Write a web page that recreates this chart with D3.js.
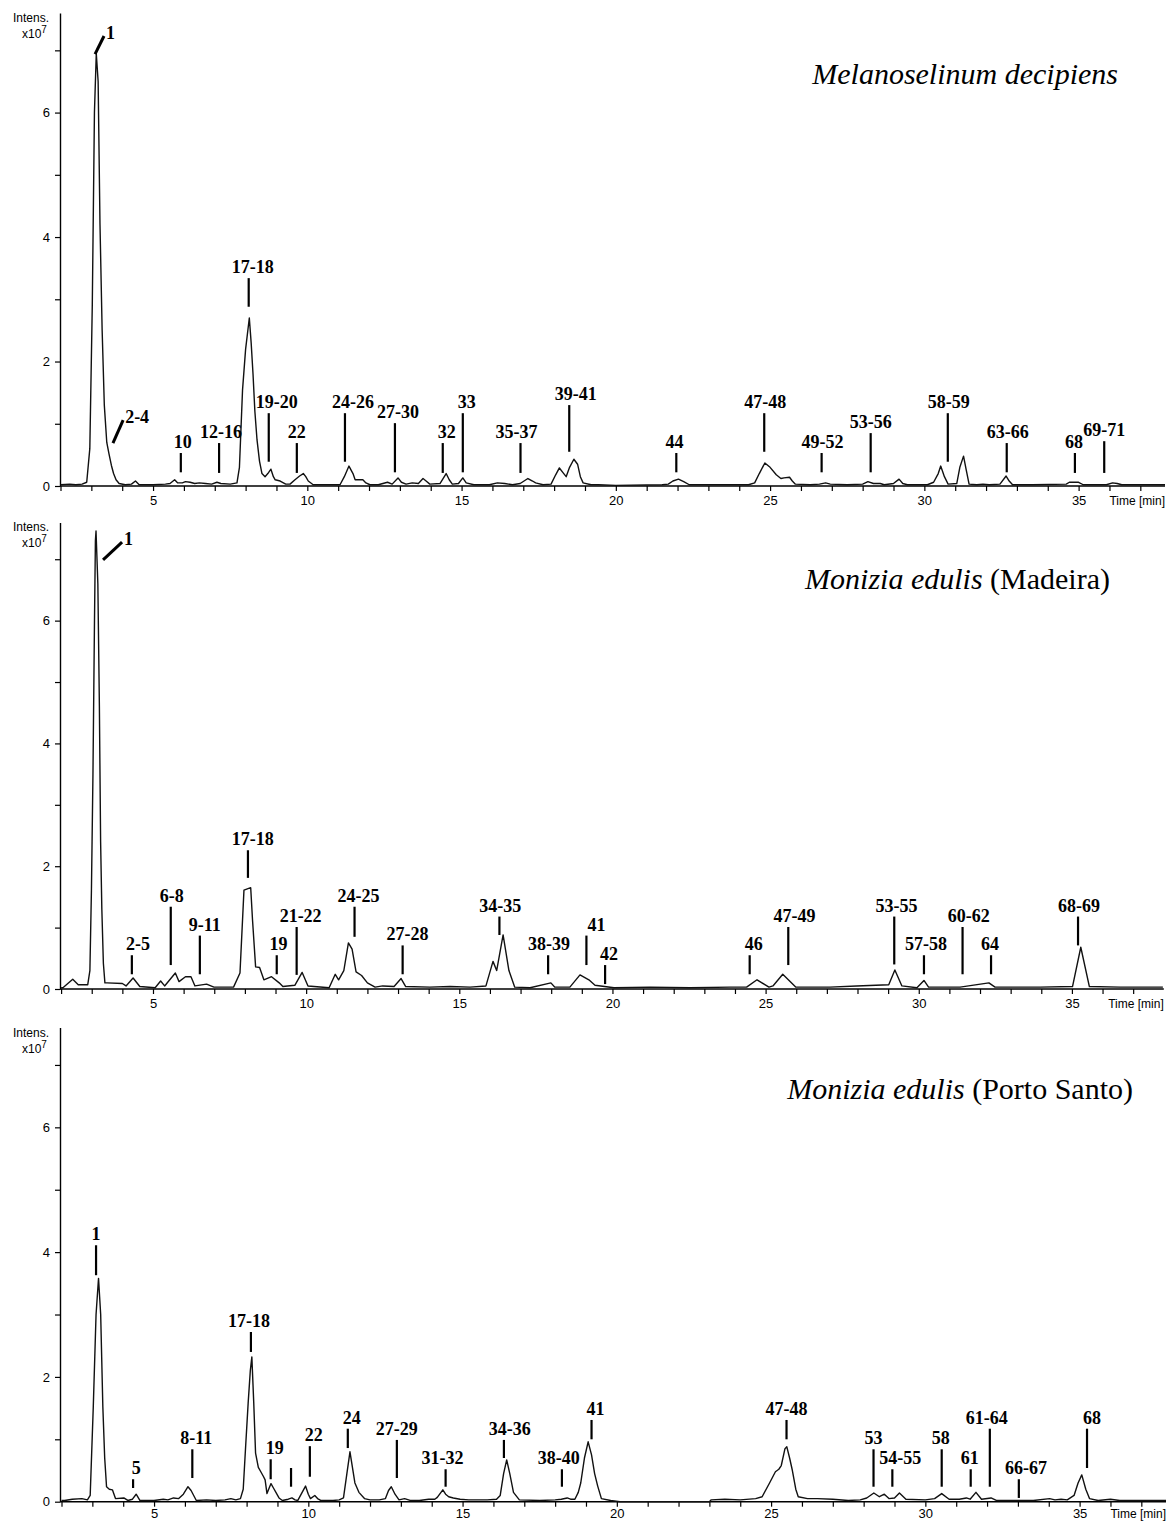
<!DOCTYPE html>
<html>
<head>
<meta charset="utf-8">
<script src="https://cdn.jsdelivr.net/npm/d3@7"></script>
<style>
  body { margin: 0; background: #fff; }
  .axis .domain { stroke: #000; stroke-width: 1.4; }
  .axis line { stroke: #000; stroke-width: 1.2; }
  .axis text { font-family: "Liberation Sans", Arial, sans-serif; font-size: 13px; fill: #000; }
  .trace { fill: none; stroke: #111; stroke-width: 1.4; stroke-linejoin: round; }
  .peak-label { font-family: "Liberation Serif", "Times New Roman", serif; font-weight: bold; font-size: 18px; fill: #000; }
  .marker { stroke: #000; stroke-width: 2.2; }
  .slant { stroke: #000; stroke-width: 3; }
  .unit-label { font-family: "Liberation Sans", Arial, sans-serif; font-size: 12px; fill: #000; }
  .title { font-family: "Liberation Serif", "Times New Roman", serif; font-size: 30px; fill: #000; }
</style>
</head>
<body>
<svg id="chart" width="1174" height="1522"></svg>
<script>
// ---- data (time in min, intensity in x10^7) ----

var titles = ['Melanoselinum decipiens', 'Monizia edulis', 'Monizia edulis']
var titleSuffix = ['', ' (Madeira)', ' (Porto Santo)']

var xTickValues = d3.range(2, 38)
var yTickValues = d3.range(0, 8)

// Melanoselinum decipiens
var melTime = [2.0, 2.3, 2.5, 2.7, 2.85, 2.95, 3.03, 3.1, 3.16, 3.22, 3.28, 3.35, 3.42, 3.5, 3.57, 3.65, 3.72, 3.8, 3.9, 4.1,
  4.3, 4.43, 4.55, 5.0, 5.4, 5.55, 5.7, 5.8, 5.95, 6.05, 6.2, 6.35, 6.5, 6.7, 6.9, 7.07, 7.2, 7.5, 7.72, 7.8,
  7.9, 8.0, 8.12, 8.18, 8.24, 8.3, 8.37, 8.45, 8.53, 8.63, 8.72, 8.82, 8.9, 8.96, 9.12, 9.3, 9.44, 9.6, 9.75, 9.87,
  9.95, 10.03, 10.19, 10.5, 11.06, 11.2, 11.35, 11.48, 11.55, 11.65, 11.8, 11.9, 12.03, 12.3, 12.6, 12.75, 12.94, 13.05, 13.2, 13.4,
  13.6, 13.75, 13.85, 13.97, 14.3, 14.5, 14.6, 14.7, 14.9, 15.04, 15.15, 15.4, 15.9, 16.16, 16.4, 16.65, 16.9, 17.15, 17.3, 17.4,
  17.64, 17.9, 18.05, 18.17, 18.28, 18.39, 18.5, 18.64, 18.76, 18.85, 18.94, 19.2, 19.44, 20.0, 21.5, 21.7, 21.85, 22.03, 22.2, 22.38,
  23.0, 24.3, 24.5, 24.65, 24.83, 25.0, 25.2, 25.35, 25.45, 25.63, 25.72, 25.82, 26.3, 26.6, 26.8, 26.95, 27.5, 28.0, 28.17, 28.35,
  28.57, 28.7, 29.0, 29.18, 29.3, 29.45, 30.1, 30.3, 30.45, 30.53, 30.65, 30.77, 31.05, 31.15, 31.27, 31.36, 31.45, 31.7, 31.9, 32.1,
  32.45, 32.65, 32.75, 32.86, 33.5, 34.6, 34.7, 35.0, 35.15, 35.9, 36.1, 36.25, 36.4, 37.8]
var melIntens = [0.02, 0.03, 0.02, 0.03, 0.06, 0.6, 2.9, 6.0, 6.95, 6.5, 4.2, 2.5, 1.3, 0.7, 0.52, 0.33, 0.2, 0.1, 0.04, 0.02,
  0.03, 0.08, 0.02, 0.02, 0.03, 0.04, 0.1, 0.05, 0.05, 0.07, 0.06, 0.04, 0.05, 0.04, 0.03, 0.06, 0.04, 0.03, 0.05, 0.3,
  1.54, 2.2, 2.7, 2.3, 1.8, 1.2, 0.74, 0.4, 0.2, 0.15, 0.2, 0.27, 0.15, 0.1, 0.08, 0.03, 0.03, 0.1, 0.16, 0.2,
  0.15, 0.08, 0.02, 0.02, 0.02, 0.15, 0.32, 0.2, 0.1, 0.1, 0.1, 0.05, 0.02, 0.02, 0.06, 0.03, 0.13, 0.06, 0.03, 0.05,
  0.04, 0.12, 0.08, 0.03, 0.04, 0.2, 0.1, 0.03, 0.04, 0.13, 0.05, 0.02, 0.02, 0.05, 0.04, 0.02, 0.04, 0.12, 0.08, 0.05,
  0.02, 0.03, 0.18, 0.29, 0.22, 0.15, 0.3, 0.43, 0.35, 0.15, 0.05, 0.02, 0.02, 0.01, 0.02, 0.03, 0.08, 0.11, 0.07, 0.02,
  0.02, 0.02, 0.05, 0.2, 0.37, 0.3, 0.18, 0.12, 0.13, 0.14, 0.08, 0.03, 0.02, 0.03, 0.05, 0.03, 0.02, 0.03, 0.07, 0.04,
  0.04, 0.02, 0.04, 0.11, 0.04, 0.02, 0.02, 0.06, 0.2, 0.32, 0.15, 0.03, 0.04, 0.3, 0.48, 0.25, 0.03, 0.02, 0.03, 0.02,
  0.03, 0.16, 0.08, 0.02, 0.02, 0.03, 0.06, 0.06, 0.02, 0.02, 0.05, 0.04, 0.02, 0.02]
var melLabels = ['10', '12-16', '17-18', '19-20', '22', '24-26', '27-30', '32', '33', '35-37', '39-41', '44', '47-48', '49-52', '53-56', '58-59', '63-66', '68', '69-71']
var melMarkTime = [5.9, 7.14, 8.1, 8.75, 9.66, 11.22, 12.84, 14.39, 15.04, 16.91, 18.49, 21.96, 24.81, 26.67, 28.26, 30.76, 32.67, 34.88, 35.83]
var melTextTime = [5.96, 7.2, 8.23, 9.01, 9.66, 11.48, 12.94, 14.52, 15.17, 16.78, 18.7, 21.9, 24.84, 26.7, 28.26, 30.79, 32.7, 34.85, 35.83]
var melMarkTop = [0.53, 0.69, 3.34, 1.17, 0.69, 1.17, 1.01, 0.69, 1.17, 0.69, 1.3, 0.53, 1.17, 0.53, 0.85, 1.17, 0.69, 0.53, 0.72]
var melMarkBottom = [0.22, 0.21, 2.88, 0.39, 0.21, 0.39, 0.22, 0.21, 0.22, 0.21, 0.55, 0.22, 0.55, 0.22, 0.22, 0.39, 0.22, 0.21, 0.21]
var melSlantLabels = ['1', '2-4']
var melSlantFrom = [[3.12, 6.94], [3.7, 0.69]]
var melSlantTo = [[3.41, 7.23], [4.03, 1.06]]

// Monizia edulis (Madeira)
var madTime = [2.0, 2.06, 2.38, 2.56, 2.87, 2.94, 2.99, 3.04, 3.09, 3.12, 3.14, 3.2, 3.25, 3.29, 3.33, 3.38, 3.43, 3.5, 4.0, 4.12,
  4.35, 4.57, 5.07, 5.25, 5.38, 5.73, 5.85, 6.06, 6.24, 6.37, 6.75, 6.99, 7.63, 7.84, 7.97, 8.19, 8.25, 8.35, 8.48, 8.62,
  8.87, 9.12, 9.24, 9.63, 9.87, 10.06, 10.75, 10.95, 11.06, 11.23, 11.38, 11.5, 11.63, 11.81, 12.0, 12.25, 12.5, 12.87, 13.1, 13.25,
  14.04, 14.7, 15.35, 15.87, 16.1, 16.22, 16.43, 16.62, 16.81, 17.31, 17.99, 18.12, 18.61, 18.94, 19.23, 19.43, 20.05, 21.23, 22.53, 23.84,
  24.38, 24.72, 25.11, 25.24, 25.56, 25.99, 27.1, 27.97, 29.02, 29.22, 29.45, 29.94, 30.17, 30.32, 31.35, 32.29, 32.49, 33.96, 35.02, 35.29,
  35.57, 36.57, 37.97]
var madIntens = [0.02, 0.02, 0.16, 0.07, 0.07, 0.3, 1.6, 3.5, 6.0, 7.3, 7.46, 6.6, 4.6, 2.4, 1.3, 0.42, 0.1, 0.1, 0.09, 0.05,
  0.18, 0.04, 0.02, 0.13, 0.05, 0.26, 0.12, 0.2, 0.2, 0.05, 0.08, 0.03, 0.03, 0.26, 1.61, 1.65, 1.12, 0.36, 0.35, 0.15,
  0.2, 0.1, 0.04, 0.06, 0.27, 0.05, 0.02, 0.24, 0.15, 0.3, 0.75, 0.65, 0.28, 0.22, 0.1, 0.03, 0.05, 0.04, 0.17, 0.04,
  0.03, 0.04, 0.03, 0.05, 0.45, 0.3, 0.88, 0.3, 0.03, 0.02, 0.1, 0.03, 0.03, 0.23, 0.15, 0.06, 0.02, 0.03, 0.02, 0.03,
  0.03, 0.15, 0.03, 0.05, 0.24, 0.03, 0.03, 0.05, 0.07, 0.31, 0.05, 0.02, 0.14, 0.03, 0.03, 0.1, 0.03, 0.03, 0.04, 0.68,
  0.04, 0.03, 0.03]
var madLabels = ['2-5', '6-8', '9-11', '17-18', '19', '21-22', '24-25', '27-28', '34-35', '38-39', '41', '42', '46', '47-49', '53-55', '57-58', '60-62', '64', '68-69']
var madMarkTime = [4.31, 5.58, 6.53, 8.1, 9.04, 9.69, 11.58, 13.15, 16.31, 17.9, 19.15, 19.76, 24.48, 25.74, 29.2, 30.17, 31.43, 32.36, 35.2]
var madTextTime = [4.51, 5.61, 6.69, 8.26, 9.1, 9.82, 11.71, 13.31, 16.34, 17.93, 19.48, 19.89, 24.61, 25.94, 29.27, 30.24, 31.63, 32.33, 35.23]
var madMarkTop = [0.55, 1.34, 0.87, 2.26, 0.55, 1.01, 1.34, 0.71, 1.18, 0.55, 0.87, 0.39, 0.55, 1.01, 1.18, 0.55, 1.01, 0.55, 1.18]
var madMarkBottom = [0.24, 0.39, 0.24, 1.81, 0.24, 0.23, 0.85, 0.24, 0.88, 0.24, 0.39, 0.08, 0.24, 0.39, 0.4, 0.24, 0.24, 0.24, 0.71]
var madSlantLabels = ['1']
var madSlantFrom = [[3.37, 6.99]]
var madSlantTo = [[3.99, 7.28]]

// Monizia edulis (Porto Santo)
var psTime = [2.0, 2.1, 2.35, 2.66, 2.84, 2.93, 3.03, 3.12, 3.2, 3.27, 3.34, 3.4, 3.46, 3.55, 3.65, 3.75, 4.02, 4.15, 4.3, 4.42,
  4.54, 5.0, 5.3, 5.45, 5.63, 5.8, 5.95, 6.1, 6.2, 6.37, 6.7, 7.0, 7.3, 7.49, 7.65, 7.8, 7.89, 7.97, 8.05, 8.12,
  8.17, 8.23, 8.29, 8.38, 8.46, 8.55, 8.6, 8.66, 8.79, 8.87, 8.95, 9.05, 9.16, 9.35, 9.47, 9.57, 9.66, 9.8, 9.91, 10.0,
  10.07, 10.21, 10.3, 10.4, 10.8, 11.0, 11.14, 11.25, 11.35, 11.43, 11.51, 11.64, 11.82, 12.0, 12.3, 12.5, 12.6, 12.69, 12.81, 12.94,
  13.12, 13.3, 13.6, 13.9, 14.1, 14.18, 14.36, 14.45, 14.55, 14.7, 14.92, 15.2, 15.5, 15.8, 16.1, 16.22, 16.33, 16.43, 16.53, 16.65,
  16.84, 17.5, 18.0, 18.2, 18.39, 18.5, 18.64, 18.75, 18.83, 18.95, 19.07, 19.18, 19.28, 19.38, 19.5, 19.8, 20.1, 23.0, 23.06, 23.5,
  24.0, 24.5, 24.71, 24.95, 25.14, 25.25, 25.33, 25.45, 25.51, 25.6, 25.69, 25.8, 25.88, 26.18, 26.5, 27.0, 27.5, 27.89, 28.1, 28.33,
  28.51, 28.67, 28.82, 29.0, 29.16, 29.37, 30.0, 30.3, 30.53, 30.77, 31.1, 31.33, 31.45, 31.64, 31.82, 32.13, 32.3, 33.0, 33.5, 34.03,
  34.2, 34.4, 34.6, 34.82, 34.95, 35.07, 35.2, 35.32, 35.6, 36.0, 36.3, 37.8]
var psIntens = [0.02, 0.02, 0.04, 0.05, 0.03, 0.1, 1.52, 3.0, 3.58, 3.0, 1.52, 0.7, 0.24, 0.2, 0.19, 0.05, 0.06, 0.02, 0.04, 0.12,
  0.02, 0.02, 0.04, 0.03, 0.06, 0.05, 0.12, 0.24, 0.18, 0.02, 0.03, 0.02, 0.03, 0.05, 0.03, 0.05, 0.2, 0.9, 1.58, 2.1,
  2.32, 1.6, 0.78, 0.55, 0.48, 0.4, 0.35, 0.13, 0.29, 0.22, 0.15, 0.06, 0.02, 0.04, 0.06, 0.03, 0.02, 0.15, 0.25, 0.12,
  0.05, 0.1, 0.05, 0.02, 0.02, 0.03, 0.06, 0.45, 0.8, 0.55, 0.3, 0.15, 0.05, 0.03, 0.03, 0.05, 0.18, 0.24, 0.12, 0.03,
  0.05, 0.02, 0.02, 0.04, 0.04, 0.07, 0.19, 0.12, 0.08, 0.06, 0.04, 0.03, 0.03, 0.03, 0.04, 0.1, 0.45, 0.67, 0.45, 0.15,
  0.03, 0.02, 0.03, 0.04, 0.06, 0.04, 0.04, 0.15, 0.3, 0.7, 0.96, 0.75, 0.45, 0.25, 0.05, 0.02, 0.0, 0.0, 0.03, 0.04,
  0.03, 0.05, 0.08, 0.3, 0.48, 0.52, 0.58, 0.85, 0.88, 0.7, 0.5, 0.2, 0.08, 0.05, 0.05, 0.04, 0.02, 0.03, 0.06, 0.14,
  0.08, 0.12, 0.05, 0.06, 0.14, 0.04, 0.03, 0.05, 0.13, 0.04, 0.04, 0.06, 0.04, 0.15, 0.04, 0.06, 0.02, 0.02, 0.02, 0.05,
  0.03, 0.04, 0.03, 0.1, 0.3, 0.43, 0.2, 0.05, 0.02, 0.04, 0.02, 0.02]
var psLabels = ['1', '5', '8-11', '17-18', '19', '', '22', '24', '27-29', '31-32', '34-36', '38-40', '41', '47-48', '53', '54-55', '58', '61', '61-64', '66-67', '68']
var psMarkTime = [3.12, 4.32, 6.24, 8.14, 8.78, 9.44, 10.05, 11.28, 12.87, 14.45, 16.34, 18.22, 19.18, 25.5, 28.32, 28.93, 30.53, 31.47, 32.09, 33.03, 35.24]
var psTextTime = [3.12, 4.42, 6.37, 8.08, 8.91, 9.44, 10.18, 11.41, 12.87, 14.35, 16.53, 18.12, 19.31, 25.5, 28.32, 29.19, 30.5, 31.44, 31.99, 33.26, 35.4]
var psMarkTop = [4.11, 0.36, 0.84, 2.72, 0.68, 0.54, 0.89, 1.17, 0.99, 0.52, 0.99, 0.52, 1.31, 1.31, 0.84, 0.52, 0.84, 0.52, 1.17, 0.36, 1.17]
var psMarkBottom = [3.63, 0.22, 0.38, 2.4, 0.36, 0.24, 0.4, 0.86, 0.38, 0.24, 0.7, 0.24, 1.0, 1.0, 0.24, 0.24, 0.24, 0.24, 0.24, 0.06, 0.54]
var psSlantLabels = []
var psSlantFrom = []
var psSlantTo = []

// ---- layout ----
var panels = [
  { time: melTime, intens: melIntens, labels: melLabels, markTime: melMarkTime, textTime: melTextTime,
    markTop: melMarkTop, markBottom: melMarkBottom, slantLabels: melSlantLabels, slantFrom: melSlantFrom, slantTo: melSlantTo,
    tEnd: 37.8, xLeft: 60.5, xRight: 1165, zero: 486, top: 13, pad: 5, titleX: 1118, titleY: 84 },
  { time: madTime, intens: madIntens, labels: madLabels, markTime: madMarkTime, textTime: madTextTime,
    markTop: madMarkTop, markBottom: madMarkBottom, slantLabels: madSlantLabels, slantFrom: madSlantFrom, slantTo: madSlantTo,
    tEnd: 38, xLeft: 61.1, xRight: 1163.8, zero: 989, top: 522.4, pad: 5, titleX: 1110, titleY: 589 },
  { time: psTime, intens: psIntens, labels: psLabels, markTime: psMarkTime, textTime: psTextTime,
    markTop: psMarkTop, markBottom: psMarkBottom, slantLabels: psSlantLabels, slantFrom: psSlantFrom, slantTo: psSlantTo,
    tEnd: 37.8, xLeft: 61.5, xRight: 1166, zero: 1501.7, top: 1027.5, pad: 2, titleX: 1133, titleY: 1099 }
]

var svg = d3.select('#chart')
var yAxisX = 60

panels.forEach(function(p, i) {
  var x = d3.scaleLinear().domain([2, p.tEnd]).range([p.xLeft, p.xRight])
  var y = d3.scaleLinear().domain([0, 7.6]).range([p.zero, p.top])
  var g = svg.append('g').attr('class', 'panel')

  // axes
  var xAxis = d3.axisBottom(x)
    .tickValues(xTickValues)
    .tickSize(5)
    .tickSizeOuter(0)
    .tickPadding(p.pad)
    .tickFormat(function(d) { return d % 5 === 0 ? d : '' })
  g.append('g')
    .attr('class', 'axis x-axis')
    .attr('transform', 'translate(0,' + p.zero + ')')
    .call(xAxis)
  // stretch the baseline to the y axis
  g.select('.x-axis .domain').attr('d', 'M' + yAxisX + ',0H' + x.range()[1])

  var yAxis = d3.axisLeft(y)
    .tickValues(yTickValues)
    .tickSize(5)
    .tickSizeOuter(0)
    .tickPadding(5)
    .tickFormat(function(d) { return d % 2 === 0 ? d : '' })
  g.append('g')
    .attr('class', 'axis y-axis')
    .attr('transform', 'translate(' + yAxisX + ',0)')
    .call(yAxis)

  g.append('text')
    .attr('class', 'unit-label')
    .attr('x', 13)
    .attr('y', p.top + 9)
    .text('Intens.')
  var u = g.append('text')
    .attr('class', 'unit-label')
    .attr('x', 22)
    .attr('y', p.top + 25)
  u.append('tspan').text('x10')
  u.append('tspan').attr('dy', -5).attr('font-size', 10).text('7')

  g.append('text')
    .attr('class', 'unit-label')
    .attr('x', x.range()[1])
    .attr('y', p.zero + 14 + p.pad)
    .attr('text-anchor', 'end')
    .text('Time [min]')

  // trace
  var line = d3.line()
    .x(function(d) { return x(d[0]) })
    .y(function(d) { return y(d[1]) })
  g.append('path')
    .datum(d3.zip(p.time, p.intens))
    .attr('class', 'trace')
    .attr('d', line)

  // vertical peak markers
  var marks = p.labels.map(function(lab, j) {
    return { label: lab, t: p.markTime[j], tt: p.textTime[j], top: p.markTop[j], bottom: p.markBottom[j] }
  })
  g.selectAll('.marker')
    .data(marks)
    .enter()
    .append('line')
    .attr('class', 'marker')
    .attr('x1', function(d) { return x(d.t) })
    .attr('x2', function(d) { return x(d.t) })
    .attr('y1', function(d) { return y(d.top) })
    .attr('y2', function(d) { return y(d.bottom) })
  g.selectAll('.peak-label')
    .data(marks)
    .enter()
    .append('text')
    .attr('class', 'peak-label')
    .attr('text-anchor', 'middle')
    .attr('x', function(d) { return x(d.tt) })
    .attr('y', function(d) { return y(d.top) - 5 })
    .text(function(d) { return d.label })

  // slanted markers
  var slants = p.slantLabels.map(function(lab, j) {
    return { label: lab, from: p.slantFrom[j], to: p.slantTo[j] }
  })
  g.selectAll('.slant')
    .data(slants)
    .enter()
    .append('line')
    .attr('class', 'slant')
    .attr('x1', function(d) { return x(d.from[0]) })
    .attr('y1', function(d) { return y(d.from[1]) })
    .attr('x2', function(d) { return x(d.to[0]) })
    .attr('y2', function(d) { return y(d.to[1]) })
  g.selectAll('.slant-label')
    .data(slants)
    .enter()
    .append('text')
    .attr('class', 'peak-label slant-label')
    .attr('x', function(d) { return x(d.to[0]) + 2 })
    .attr('y', function(d) { return y(d.to[1]) + 3 })
    .text(function(d) { return d.label })

  // species title
  var t = g.append('text')
    .attr('class', 'title')
    .attr('x', p.titleX)
    .attr('y', p.titleY)
    .attr('text-anchor', 'end')
  t.append('tspan').attr('font-style', 'italic').text(titles[i])
  t.append('tspan').text(titleSuffix[i])
})
</script>
</body>
</html>
